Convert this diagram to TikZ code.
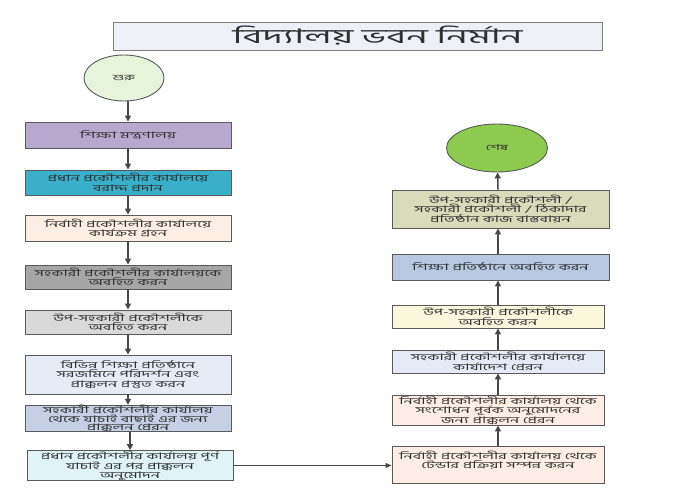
\documentclass[tikz,border=0pt]{standalone}
\usepackage{fontspec}
\newfontfamily\bn[Script=Bengali,FakeStretch=1.8]{Hind Siliguri}
\newfontfamily\bnt[Script=Bengali,FakeStretch=1.9]{Hind Siliguri}
\usetikzlibrary{arrows.meta,shapes.geometric}
\definecolor{ttl}{HTML}{EEF0F8}
\definecolor{cstart}{HTML}{E6F4DC}
\definecolor{cend}{HTML}{8CCB50}
\definecolor{c1}{HTML}{B8A8D0}
\definecolor{c2}{HTML}{3AAFC9}
\definecolor{c3}{HTML}{FDEEE4}
\definecolor{c4}{HTML}{A6A6A6}
\definecolor{c5}{HTML}{D9D9D9}
\definecolor{c6}{HTML}{E6ECF6}
\definecolor{c7}{HTML}{C5D0E4}
\definecolor{c8}{HTML}{E0F4F8}
\definecolor{c9}{HTML}{FDEDE4}
\definecolor{c11}{HTML}{E4EAF6}
\definecolor{c12}{HTML}{FBF7DC}
\definecolor{c13}{HTML}{B8C8E0}
\definecolor{c14}{HTML}{D8DCB8}
\definecolor{edge}{HTML}{5A5A5A}
\definecolor{txt}{HTML}{303030}
\begin{document}
\begin{tikzpicture}[x=1pt,y=-1pt,
  box/.style={draw=edge, line width=0.9pt, align=center, inner sep=0pt,
    text=txt, font=\bn\fontsize{9}{9.5}\selectfont},
  tight/.style={font=\bn\fontsize{9}{7.6}\selectfont},
  lbox/.style={box, minimum width=206pt},
  rbox/.style={box, minimum width=212pt},
  oval/.style={ellipse, draw=edge, line width=0.9pt, inner sep=0pt,
    text=txt, font=\bn\fontsize{8}{9}\selectfont},
  arr/.style={draw=edge!80!black, line width=1.5pt, -{Triangle[length=6pt,width=6pt]}},
  harr/.style={draw=edge!80!black, line width=0.8pt, -{Triangle[length=6pt,width=5pt]}}]
\useasboundingbox (0,0) rectangle (674,503);
\fill[white] (0,0) rectangle (674,503);
% title
\node[box, fill=ttl, draw=gray, minimum width=489pt, minimum height=28pt,
  font=\bnt\fontsize{20}{22}\selectfont] (title) at (357.5,36) {\hspace*{40pt}বিদ্যালয় ভবন নির্মান};
% left column
\node[oval, fill=cstart, minimum width=80pt, minimum height=46pt] (start) at (124,78) {শুরু};
\node[lbox, fill=c1, minimum height=26pt] (b1) at (128,135) {শিক্ষা মন্ত্রণালয়};
\node[lbox, fill=c2, minimum height=25pt] (b2) at (128,182.5) {প্রধান প্রকৌশলীর কার্যালয়ে\\বরাদ্দ প্রদান};
\node[lbox, fill=c3, minimum height=26pt] (b3) at (128,228) {নির্বাহী প্রকৌশলীর কার্যালয়ে\\কার্যক্রম গ্রহন};
\node[lbox, fill=c4, minimum height=24pt] (b4) at (128,277) {সহকারী প্রকৌশলীর কার্যালয়কে\\অবহিত করন};
\node[lbox, fill=c5, minimum height=24pt] (b5) at (128,322) {উপ-সহকারী প্রকৌশলীকে\\অবহিত করন};
\node[lbox, fill=c6, minimum height=39pt] (b6) at (128,374.5) {বিভিন্ন শিক্ষা প্রতিষ্ঠানে\\সরজমিনে পরিদর্শন এবং\\প্রাক্কলন প্রস্তুত করন};
\node[lbox, tight, fill=c7, minimum height=23pt] (b7) at (128,418.5) {সহকারী প্রকৌশলীর কার্যালয়\\থেকে যাচাই বাছাই এর জন্য\\প্রাক্কলন প্রেরন};
\node[lbox, tight, fill=c8, minimum height=25pt] (b8) at (130,465.5) {প্রধান প্রকৌশলীর কার্যালয় পূর্ণ\\যাচাই এর পর প্রাক্কলন\\অনুমোদন};
% right column
\node[rbox, fill=c9, minimum height=37pt] (b9) at (498,464.5) {নির্বাহী প্রকৌশলীর কার্যালয় থেকে\\টেন্ডার প্রক্রিয়া সম্পন্ন করন\\~};
\node[rbox, fill=c9, minimum height=30pt] (b10) at (498,410) {নির্বাহী প্রকৌশলীর কার্যালয় থেকে\\সংশোধন পূর্বক অনুমোদনের\\জন্য প্রাক্কলন প্রেরন};
\node[rbox, fill=c11, minimum height=23pt] (b11) at (498,361.5) {সহকারী প্রকৌশলীর কার্যালয়ে\\কার্যাদেশ প্রেরন};
\node[rbox, fill=c12, minimum height=23pt] (b12) at (498,316.5) {উপ-সহকারী প্রকৌশলীকে\\অবহিত করন};
\node[box, fill=c13, minimum width=217pt, minimum height=26pt] (b13) at (500.5,267) {শিক্ষা প্রতিষ্ঠানে অবহিত করন};
\node[box, fill=c14, minimum width=217pt, minimum height=38pt] (b14) at (500.5,209) {উপ-সহকারী প্রকৌশলী /\\সহকারী প্রকৌশলী / ঠিকাদার\\প্রতিষ্ঠান কাজ বাস্তবায়ন};
\node[oval, fill=cend, minimum width=101pt, minimum height=48pt] (end) at (497,148) {শেষ};
% connectors
\draw[arr] (b1.north |- start.south) -- (b1.north);
\draw[arr] (b1) -- (b2);
\draw[arr] (b2) -- (b3);
\draw[arr] (b3) -- (b4);
\draw[arr] (b4) -- (b5);
\draw[arr] (b5) -- (b6);
\draw[arr] (b6) -- (b7);
\draw[arr] (b7.south -| b8.north) -- (b8.north);
\draw[harr] (b8.east) -- (b8.east -| b9.west);
\draw[arr] (b9) -- (b10);
\draw[arr] (b10) -- (b11);
\draw[arr] (b11) -- (b12);
\draw[arr] (b12.north) -- (b12.north |- b13.south);
\draw[arr] (b13.north -| b12.north) -- (b12.north |- b14.south);
\draw[arr] (b14.north -| b12.north) -- (end);
\end{tikzpicture}
\end{document}
